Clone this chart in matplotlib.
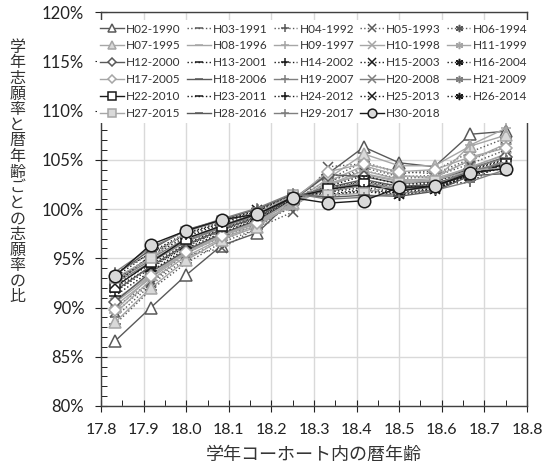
import numpy as np
import matplotlib.pyplot as plt
from matplotlib.ticker import MultipleLocator, FuncFormatter

plt.rcParams['font.family'] = ['Lato', 'Noto Sans CJK JP', 'DejaVu Sans']

# ages (month steps within the school-year cohort)
ages = [17.833, 17.917, 18.0, 18.083, 18.167, 18.25,
        18.333, 18.417, 18.5, 18.583, 18.667, 18.75]

names = ["H02-1990", "H03-1991", "H04-1992", "H05-1993", "H06-1994",
         "H07-1995", "H08-1996", "H09-1997", "H10-1998", "H11-1999",
         "H12-2000", "H13-2001", "H14-2002", "H15-2003", "H16-2004",
         "H17-2005", "H18-2006", "H19-2007", "H20-2008", "H21-2009",
         "H22-2010", "H23-2011", "H24-2012", "H25-2013", "H26-2014",
         "H27-2015", "H28-2016", "H29-2017", "H30-2018"]

# ratio (%)
h02 = [86.6, 90.0, 93.3, 96.3, 97.6, 101.0, 103.6, 106.3, 104.7, 104.3, 107.6, 107.9]
h03 = [88.3, 91.8, 94.5, 96.6, 98.0, 100.8, 103.0, 104.8, 103.6, 103.9, 105.8, 107.2]
h04 = [89.0, 92.3, 95.0, 96.8, 98.3, 100.4, 102.7, 104.2, 103.3, 103.4, 104.9, 106.6]
h05 = [89.5, 92.5, 95.3, 96.0, 98.1, 99.7, 104.3, 104.6, 103.8, 103.6, 105.1, 106.3]
h06 = [90.0, 92.6, 95.6, 97.1, 98.5, 100.2, 102.9, 103.9, 103.1, 103.3, 104.6, 106.0]
h07 = [88.5, 92.0, 94.8, 96.9, 98.2, 100.6, 103.1, 105.6, 104.4, 104.4, 106.4, 107.5]
h08 = [89.4, 92.8, 95.2, 97.0, 98.4, 100.5, 102.8, 104.4, 103.4, 103.2, 105.0, 106.6]
h09 = [90.2, 93.0, 95.5, 97.2, 98.6, 100.4, 102.5, 103.9, 103.0, 102.9, 106.5, 108.2]
h10 = [90.5, 93.2, 95.7, 97.3, 98.7, 100.3, 102.4, 103.6, 102.9, 103.1, 104.2, 105.6]
h11 = [90.8, 93.3, 95.9, 97.4, 98.8, 100.6, 102.6, 103.5, 102.8, 102.9, 104.3, 105.5]
h12 = [90.6, 93.6, 95.8, 97.5, 98.9, 100.9, 103.5, 103.3, 102.6, 102.8, 104.1, 105.3]
h13 = [91.2, 93.7, 96.0, 97.6, 99.0, 101.0, 102.3, 103.4, 102.5, 102.7, 104.0, 105.1]
h14 = [91.6, 94.0, 96.2, 97.8, 99.1, 101.0, 102.1, 102.9, 102.3, 102.6, 102.7, 104.9]
h15 = [92.0, 94.1, 96.3, 97.9, 99.2, 101.1, 102.0, 102.8, 102.2, 102.5, 103.8, 104.7]
h16 = [92.3, 94.4, 96.5, 98.0, 99.3, 101.1, 101.9, 102.6, 102.0, 102.4, 103.9, 105.0]
h17 = [89.7, 93.2, 95.6, 97.3, 98.6, 100.9, 103.8, 104.6, 103.8, 104.0, 105.3, 106.2]
h18 = [91.7, 94.2, 96.4, 97.9, 99.2, 101.2, 102.2, 103.0, 102.3, 102.5, 103.9, 104.6]
h19 = [92.5, 94.6, 96.7, 98.1, 99.4, 101.3, 102.0, 102.7, 102.1, 102.3, 104.1, 105.2]
h20 = [92.7, 94.8, 96.8, 98.2, 99.5, 101.2, 102.1, 102.5, 102.0, 102.3, 103.8, 104.8]
h21 = [92.9, 95.0, 97.0, 98.3, 99.6, 101.3, 101.8, 102.4, 101.9, 102.2, 103.7, 104.9]
h22 = [92.1, 94.6, 97.0, 98.3, 99.5, 101.2, 102.0, 102.5, 101.8, 102.4, 103.5, 104.6]
h23 = [92.8, 95.2, 97.2, 98.5, 99.7, 101.3, 101.7, 102.2, 101.7, 102.1, 103.6, 104.4]
h24 = [93.5, 95.5, 97.4, 98.6, 99.8, 101.4, 101.5, 102.0, 101.6, 102.0, 103.5, 104.3]
h25 = [92.4, 95.3, 97.5, 98.7, 99.9, 101.4, 101.4, 101.9, 101.5, 102.0, 103.4, 104.2]
h26 = [93.1, 95.6, 97.6, 98.8, 100.0, 101.5, 101.3, 101.8, 101.4, 101.9, 103.5, 104.5]
h27 = [93.0, 95.0, 97.7, 98.8, 99.6, 101.4, 101.4, 101.6, 102.6, 102.9, 103.9, 104.2]
h28 = [93.3, 95.9, 97.9, 98.9, 100.0, 101.5, 101.2, 101.4, 101.3, 101.8, 103.4, 103.6]
h29 = [93.6, 96.1, 97.8, 99.0, 100.1, 101.6, 101.0, 101.2, 101.6, 101.9, 102.8, 104.0]
h30 = [93.2, 96.4, 97.8, 98.9, 99.5, 101.15, 100.6, 100.85, 102.2, 102.3, 103.7, 104.1]

series = [h02, h03, h04, h05, h06, h07, h08, h09, h10, h11,
          h12, h13, h14, h15, h16, h17, h18, h19, h20, h21,
          h22, h23, h24, h25, h26, h27, h28, h29, h30]

DK = "#595959"
LT = "#a6a6a6"
MD = "#7f7f7f"
BK = "#1a1a1a"
star = (6, 2, 0)

# (color, linestyle, marker, marker face)
styles = [
    (DK, "-", "^", "white"), (DK, ":", "_", DK), (DK, ":", "+", DK), (DK, ":", "x", DK), (DK, ":", star, DK),
    (LT, "-", "^", "#d9d9d9"), (LT, "-", "_", LT), (LT, "-", "+", LT), (LT, "-", "x", LT), (LT, "-", star, LT),
    (DK, "-", "D", "white"), (BK, ":", "_", BK), (BK, ":", "+", BK), (BK, ":", "x", BK), (BK, ":", star, BK),
    (LT, "-", "D", "white"), (DK, "-", "_", DK), (MD, "-", "+", MD), (MD, "-", "x", MD), (MD, "-", star, MD),
    (BK, "-", "s", "white"), (BK, ":", "_", BK), (BK, ":", "+", BK), (BK, ":", "x", BK), (BK, ":", star, BK),
    (LT, "-", "s", "#d9d9d9"), (DK, "-", "_", DK), (MD, "-", "+", MD), (BK, "-", "o", "#d9d9d9"),
]

fig = plt.figure(figsize=(5.55, 4.68), dpi=100)
ax = fig.add_axes([0.182, 0.1325, 0.7675, 0.8415])

handles = []
for vals, name, (c, ls, m, fc) in zip(series, names, styles):
    ms = 7.5
    if m in ("^", "o"):
        ms = 9
    if m == "D":
        ms = 6
    if m == "_":
        ms = 8
    ln, = ax.plot(ages, vals, color=c, linestyle=ls, linewidth=1.0,
                  marker=m, markersize=ms, markerfacecolor=fc,
                  markeredgecolor=c, markeredgewidth=1.1, label=name)
    handles.append(ln)

ax.set_xlim(17.8, 18.8)
ax.set_ylim(80, 120)
ax.xaxis.set_major_locator(MultipleLocator(0.1))
ax.xaxis.set_minor_locator(MultipleLocator(0.05))
ax.yaxis.set_major_locator(MultipleLocator(5))
ax.yaxis.set_minor_locator(MultipleLocator(1))
ax.xaxis.set_major_formatter(FuncFormatter(lambda v, p: f"{v:.1f}"))
ax.yaxis.set_major_formatter(FuncFormatter(lambda v, p: f"{v:.0f}%"))
ax.grid(True, which="major", color="#d9d9d9", linewidth=1.0)
ax.set_axisbelow(True)

ax.tick_params(axis="x", which="major", direction="inout", length=8, pad=8,
               labelsize=11.5, colors="#222222")
ax.tick_params(axis="x", which="minor", direction="in", length=4)
ax.tick_params(axis="y", which="major", direction="inout", length=8, pad=8,
               labelsize=12, colors="#222222")
ax.tick_params(axis="y", which="minor", direction="in", length=4)
for s in ax.spines.values():
    s.set_color("#404040")
    s.set_linewidth(1.0)

ax.set_xlabel("学年コーホート内の暦年齢", fontsize=13, color="#333333", labelpad=7)

# vertical (stacked) y label
ylab = "学年志願率と暦年齢ごとの志願率の比"
for k, ch in enumerate(ylab):
    ypx = 40 + 15.6 * (k + 0.5)
    fig.text(0.031, 1 - ypx / 468, ch, fontsize=11.5, color="#333333",
             ha="center", va="center")

order = [i for c in range(5) for i in range(c, 29, 5)]
leg = ax.legend([handles[i] for i in order], [names[i] for i in order],
                ncol=5, loc="upper center", bbox_to_anchor=(0.5, 0.995),
                fontsize=8.5, frameon=True, facecolor="white", edgecolor="none",
                framealpha=1.0, handlelength=2.0, handletextpad=0.2,
                columnspacing=0.5, labelspacing=0.5, borderpad=0.3,
                markerscale=0.7)
for t in leg.get_texts():
    t.set_color("#333333")

fig.savefig("out.png", dpi=100)
